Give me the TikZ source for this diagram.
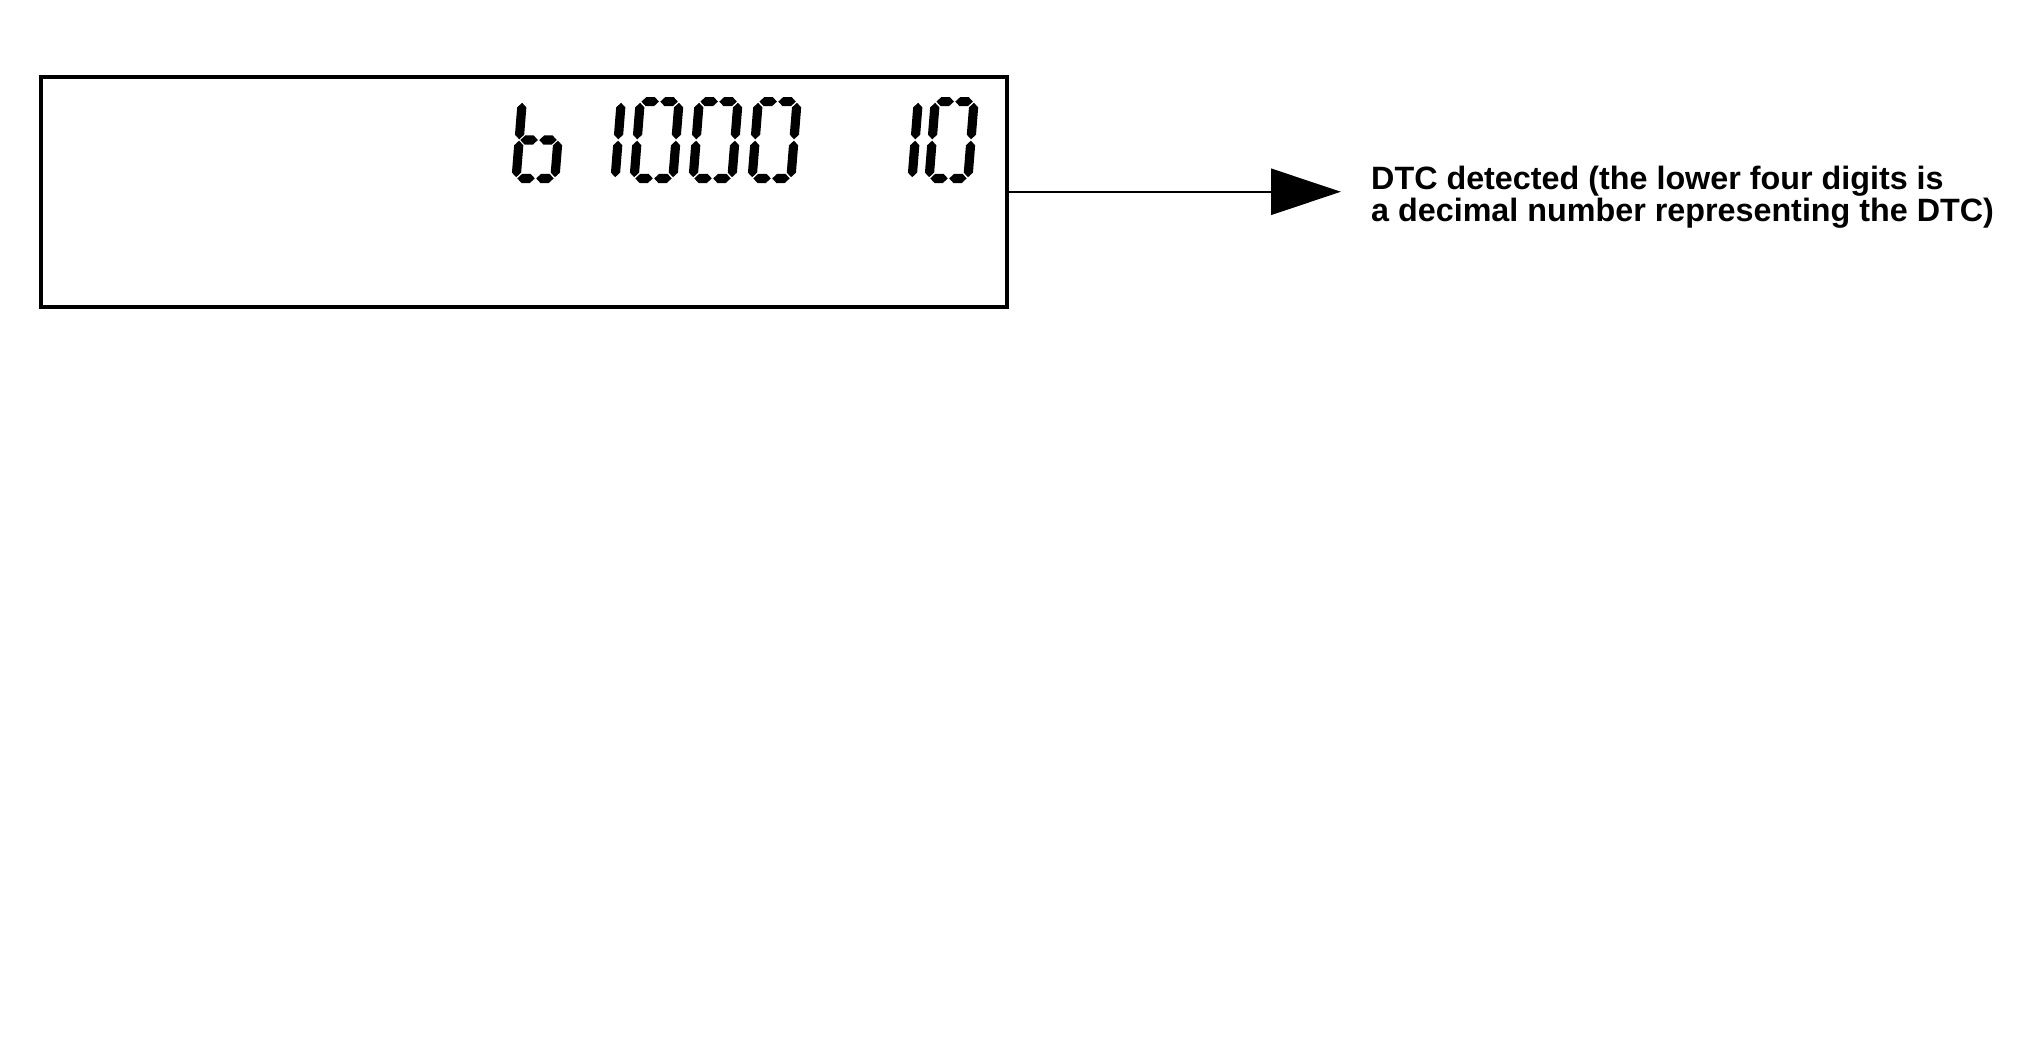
\documentclass[tikz,border=0pt]{standalone}
\usepackage{fontspec}
\setmainfont{Liberation Sans}
\usetikzlibrary{positioning}
\usetikzlibrary{arrows.meta}

\def\sh{4.6}
\newcommand{\hseg}[3]{\fill (#1,#3) -- ++(\sh,-\sh) -- (#2-\sh,#3-\sh) -- (#2,#3) -- (#2-\sh,#3+\sh) -- (#1+\sh,#3+\sh) -- cycle;}
\newcommand{\vseg}[3]{\fill (#3,#1) -- (#3+\sh,#1+\sh) -- (#3+\sh,#2-\sh) -- (#3,#2) -- (#3-\sh,#2-\sh) -- (#3-\sh,#1+\sh) -- cycle;}
\newcommand{\lcdzero}[1]{\begin{scope}[shift={(#1,97)},xslant=0.08]
	\hseg{5.8}{23.3}{4.6}\hseg{24.7}{42.2}{4.6}
	\hseg{5.8}{23.3}{81.4}\hseg{24.7}{42.2}{81.4}
	\vseg{5.8}{42.3}{4.6}\vseg{43.7}{80.2}{4.6}
	\vseg{5.8}{42.3}{43.4}\vseg{43.7}{80.2}{43.4}
\end{scope}}
\newcommand{\lcdone}[1]{\begin{scope}[shift={(#1,97)},xslant=0.08]
	\vseg{5.8}{42.3}{4.6}\vseg{43.7}{80.2}{4.6}
\end{scope}}
\newcommand{\lcdb}[1]{\begin{scope}[shift={(#1,97)},xslant=0.08]
	\vseg{5.8}{42.3}{4.6}\vseg{43.7}{80.2}{4.6}
	\hseg{5.8}{23.3}{43}\hseg{24.7}{42.2}{43}
	\vseg{43.7}{80.2}{43.4}
	\hseg{5.8}{23.3}{81.4}\hseg{24.7}{42.2}{81.4}
\end{scope}}

\begin{document}
\begin{tikzpicture}
			[x=1pt,y=-1pt,
			 panel/.style={draw,line width=4pt,inner sep=0,minimum width=966pt,minimum height=229.5pt},
			 label/.style={inner sep=0,align=left,font=\bfseries\fontsize{32.3}{32}\selectfont},
			 connect/.style={line width=2.5pt,-{Triangle[length=70pt,width=46pt]}}]
			\fill [white] (0,0) rectangle (2034,1044);
			\useasboundingbox (0,0) rectangle (2034,1044);
			\node (display) [panel] at (524,191.75) {};
			\node (dtc) [label,right=362pt of display,yshift=-5pt] {DTC detected (the lower four digits is\\a decimal number representing the DTC)};
			\draw [connect,shorten >=30pt] (display.east) -- (display.east -| dtc.west);

			\lcdb{518}
			\lcdone{617}
			\foreach \x in {636,695,754,931}
				{\lcdzero{\x}}
			\lcdone{914}
		\end{tikzpicture}
\end{document}
